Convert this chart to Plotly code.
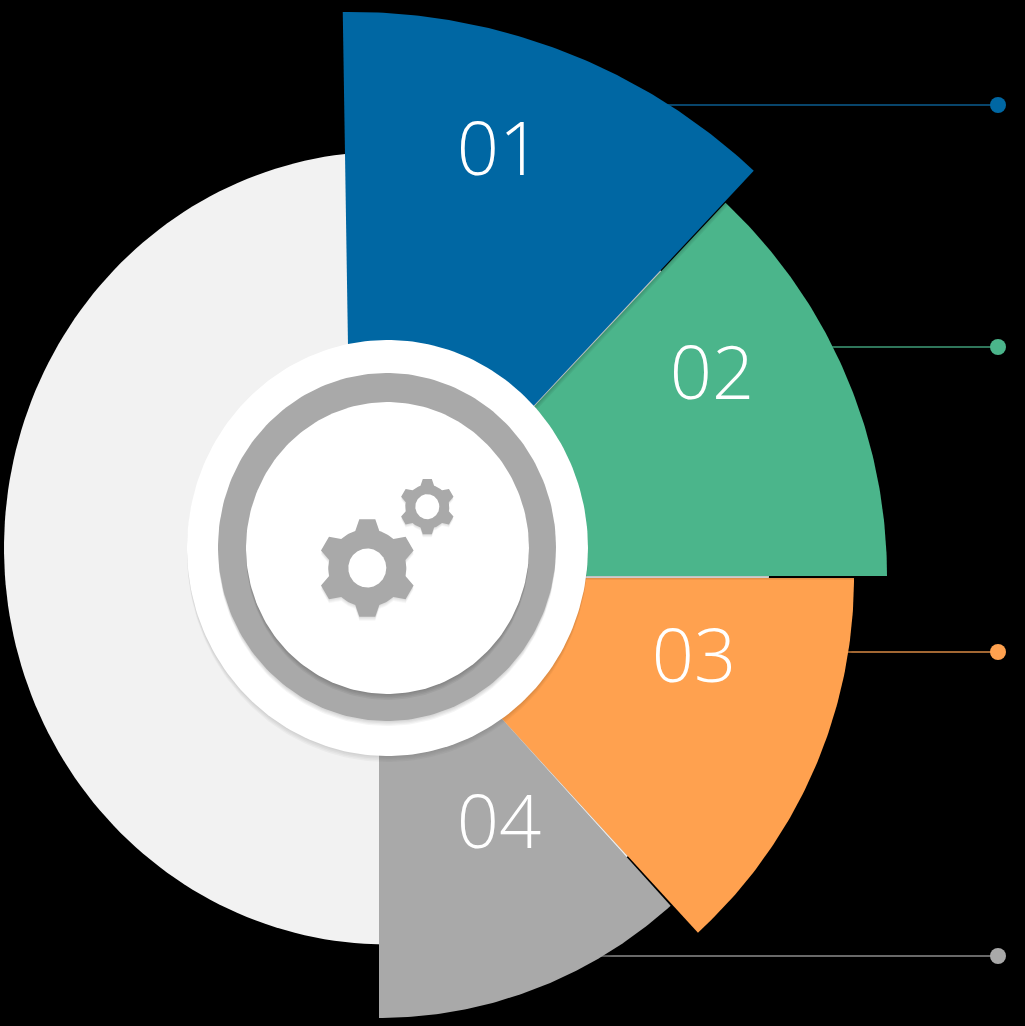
"""
plot.py
Four-segment gear infographic. Wedges, discs and gears are filled scatter
traces on a pixel-sized pair of hidden axes.
"""

import numpy as np
import plotly.graph_objects as go

# ---------------------------------------------------------------- segments
LABELS = ["01", "02", "03", "04"]
COLORS = ["#0067A3", "#4BB58B", "#FFA14F", "#A9A9A9"]
APEX_X = [352, 375, 373, 379]
APEX_Y = [600, 576, 578, 583]
RADIUS = [588, 512, 481, 435]
ANGLE_START = [-0.9, 43.2, 90.0, 137.9]  # degrees clockwise from north
ANGLE_END = [43.1, 90.0, 137.5, 180.0]
LABEL_X = [499, 712, 694, 499]
LABEL_Y = [156, 380, 663, 829]

# ---------------------------------------------------------------- leader lines
LINE_Y = [105, 347, 652, 956]
LINE_START = [665, 830, 840, 600]
LINE_END = 998
LINE_COLORS = ["#0B5C8F", "#3F9C78", "#D98A45", "#8C8C8C"]

BG = "#000000"
DISC = "#F2F2F2"
RING = "#A9A9A9"
WHITE = "#FFFFFF"

fig = go.Figure()


def wedge(cx, cy, r, a0, a1):
    t = np.radians(np.linspace(a0, a1, 90))
    x = np.r_[cx, cx + r * np.sin(t), cx]
    y = np.r_[cy, cy - r * np.cos(t), cy]
    return x, y


def ellipse(cx, cy, rx, ry):
    t = np.linspace(0, 2 * np.pi, 240)
    return cx + rx * np.cos(t), cy + ry * np.sin(t)


def gear(cx, cy, body, tip, teeth=6):
    # trapezoid teeth on a round body, first tooth pointing straight up
    xs, ys = [], []
    step = 360 / teeth
    for i in range(teeth):
        a = i * step
        angles = [a - 0.30 * step, a - 0.155 * step, a + 0.155 * step, a + 0.30 * step]
        radii = [body, tip, tip, body]
        arc = np.linspace(a + 0.30 * step, a + 0.70 * step, 10)
        angles += list(arc)
        radii += [body] * len(arc)
        for ang, rad in zip(angles, radii):
            xs.append(cx + rad * np.sin(np.radians(ang)))
            ys.append(cy - rad * np.cos(np.radians(ang)))
    xs.append(xs[0])
    ys.append(ys[0])
    return np.array(xs), np.array(ys)


def fill(xy, color, opacity=1.0):
    fig.add_trace(go.Scatter(x=xy[0], y=xy[1], mode="lines", fill="toself",
                             fillcolor=color, line=dict(width=0), opacity=opacity,
                             hoverinfo="skip", showlegend=False))


def soft_shadow(shape, args, dx, dy, strength=0.05, layers=4):
    # stacked translucent copies stand in for a blurred drop shadow
    for k in range(layers):
        f = (k + 1) / layers
        x, y = shape(*args)
        fill((x + dx * f, y + dy * f), "#000000", strength)


# backing disc
fill(ellipse(387, 548, 383, 396.5), DISC)

# leader lines sit behind the wedges
for y, x0, col in zip(LINE_Y, LINE_START, LINE_COLORS):
    fig.add_trace(go.Scatter(x=[x0, LINE_END], y=[y, y], mode="lines",
                             line=dict(color=col, width=1.5),
                             hoverinfo="skip", showlegend=False))
for y, col in zip(LINE_Y, COLORS):
    fig.add_trace(go.Scatter(x=[LINE_END], y=[y], mode="markers",
                             marker=dict(color=col, size=16, line=dict(width=0)),
                             hoverinfo="skip", showlegend=False))

# wedges, last segment first so each one overlaps the next
for i in [3, 2, 1, 0]:
    args = (APEX_X[i], APEX_Y[i], RADIUS[i], ANGLE_START[i], ANGLE_END[i])
    soft_shadow(wedge, args, 3, 4)
    fill(wedge(*args), COLORS[i])

# hub
soft_shadow(ellipse, (387.5, 548, 200.5, 208), 0, 6, 0.03)
fill(ellipse(387.5, 548, 200.5, 208), WHITE)
soft_shadow(ellipse, (387, 547, 169, 174), 0, 5, 0.04)
fill(ellipse(387, 547, 169, 174), RING)
soft_shadow(ellipse, (387.5, 548, 141.5, 146), 0, 6, 0.05)
fill(ellipse(387.5, 548, 141.5, 146), WHITE)

# gears
soft_shadow(gear, (367.3, 568, 39, 49.5), 0, 4, 0.03)
fill(gear(367.3, 568, 39, 49.5), RING)
fill(ellipse(367.3, 568, 19, 19.5), WHITE)
soft_shadow(gear, (427.3, 506.7, 22, 28), 0, 3, 0.03)
fill(gear(427.3, 506.7, 22, 28), RING)
fill(ellipse(427.3, 506.7, 12, 12.5), WHITE)

fig.add_trace(go.Scatter(x=LABEL_X, y=LABEL_Y, mode="text", text=LABELS,
                         textposition="middle center",
                         textfont=dict(family="Open Sans", size=74, color=WHITE, weight=300),
                         hoverinfo="skip", showlegend=False))

fig.update_xaxes(range=[0, 1025], visible=False, fixedrange=True)
fig.update_yaxes(range=[1026, 0], visible=False, fixedrange=True)
fig.update_layout(width=1025, height=1026, margin=dict(l=0, r=0, t=0, b=0),
                  paper_bgcolor=BG, plot_bgcolor=BG, showlegend=False)

fig.write_html("out.html", config=dict(displayModeBar=False),
               post_script="document.body.style.margin='0';document.body.style.background='#000';")
